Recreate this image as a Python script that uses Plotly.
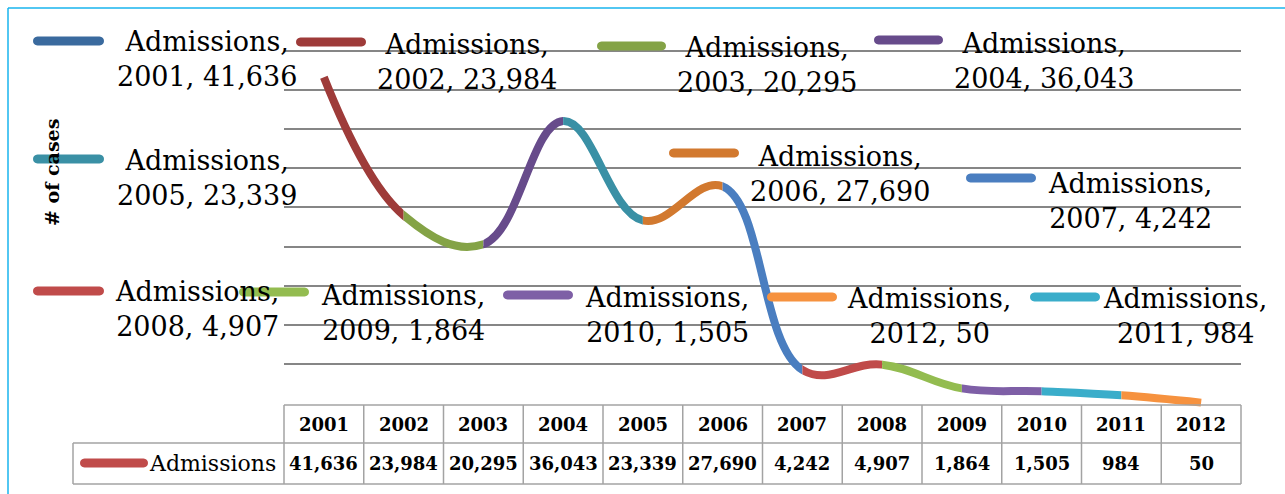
import plotly.graph_objects as go

# ---- data -------------------------------------------------------------
years = ["2001", "2002", "2003", "2004", "2005", "2006",
         "2007", "2008", "2009", "2010", "2011", "2012"]
admissions = [41636, 23984, 20295, 36043, 23339, 27690,
              4242, 4907, 1864, 1505, 984, 50]
series_name = "Admissions"
y_title = "# of cases"
y_max = 45000
y_step = 5000

# per-point colours (varied by point, as in the source workbook)
point_colors = ["#3A6A9E", "#9E3B39", "#84A346", "#674B8B", "#3A90A5", "#D2792F",
                "#4A7EC0", "#C04B4A", "#93BC50", "#7E5FA6", "#3AADCA", "#F6923F"]

# ---- canvas geometry (pixels) ----------------------------------------
W, H = 1285, 494
PLOT_L, PLOT_R = 284, 1241
PLOT_B, PLOT_T = 403, 51          # pixel rows of 0 and y_max
COL_W = (PLOT_R - PLOT_L) / len(years)


def px(x):
    return x / W


def py(y):
    return 1 - y / H


def col_center(i):
    return PLOT_L + COL_W * (i + 0.5)


def val_at_pixel(p):
    return (PLOT_B - p) / (PLOT_B - PLOT_T) * y_max


idx = list(range(len(years)))
fig = go.Figure()

# main subplot: carries the horizontal gridlines (range padded a little so
# the top gridline is not dropped at the plot edge)
TOP_PAD = 4
fig.add_trace(go.Scatter(x=idx, y=admissions, mode="markers",
                         marker=dict(opacity=0), hoverinfo="skip",
                         showlegend=False, xaxis="x", yaxis="y"))

layout = dict(
    width=W, height=H,
    margin=dict(l=0, r=0, t=0, b=0),
    paper_bgcolor="white", plot_bgcolor="rgba(0,0,0,0)",
    showlegend=False,
    xaxis=dict(domain=[px(PLOT_L), px(PLOT_R)], range=[-0.5, len(years) - 0.5],
               visible=False),
    yaxis=dict(domain=[py(PLOT_B), py(PLOT_T - TOP_PAD)],
               range=[0, val_at_pixel(PLOT_T - TOP_PAD)],
               tickvals=list(range(y_step, y_max + 1, y_step)),
               showgrid=True, gridcolor="#868686", gridwidth=1.5,
               showticklabels=False, zeroline=False, showline=False, ticks=""),
    # shared y axis for the coloured curve pieces (taller, same scale)
    yaxis2=dict(domain=[py(440), py(20)],
                range=[val_at_pixel(440), val_at_pixel(20)],
                visible=False, anchor="x2"),
)

# smoothed line: one clipped window per segment so each piece gets its colour
n_seg = len(years) - 1
for i in range(n_seg):
    x0p, x1p = col_center(i), col_center(i + 1)
    r0, r1 = i, i + 1
    if i == 0:
        x0p -= 6
        r0 -= 6 / COL_W
    if i == n_seg - 1:
        x1p += 6
        r1 += 6 / COL_W
    ax = f"xaxis{i + 2}"
    layout[ax] = dict(domain=[px(x0p), px(x1p)], range=[r0, r1],
                      visible=False, anchor="y2")
    fig.add_trace(go.Scatter(
        x=idx, y=admissions, mode="lines",
        line=dict(shape="spline", smoothing=1.15, color=point_colors[i + 1], width=8),
        hoverinfo="skip", showlegend=False,
        xaxis=f"x{i + 2}", yaxis="y2"))

fig.update_layout(**layout)

shapes = []
annotations = []


def pill(x0, x1, yc, color, thick=9):
    """Rounded legend key drawn as a path in paper coordinates."""
    r = thick / 2
    k = 1.33 * r
    pts = (f"M {px(x0 + r)},{py(yc - r)} L {px(x1 - r)},{py(yc - r)} "
           f"C {px(x1 - r + k)},{py(yc - r)} {px(x1 - r + k)},{py(yc + r)} {px(x1 - r)},{py(yc + r)} "
           f"L {px(x0 + r)},{py(yc + r)} "
           f"C {px(x0 + r - k)},{py(yc + r)} {px(x0 + r - k)},{py(yc - r)} {px(x0 + r)},{py(yc - r)} Z")
    return dict(type="path", xref="paper", yref="paper", path=pts,
                fillcolor=color, line=dict(width=0), layer="above")


# ---- per-point legend (key x0, key x1, key y, text centre x, text centre y)
legend_order = ["2001", "2002", "2003", "2004", "2005", "2006",
                "2007", "2008", "2009", "2010", "2012", "2011"]
legend_pos = {
    "2001": (33, 104, 41, 207, 59),
    "2002": (296, 366, 42, 467, 62),
    "2003": (597, 666, 46, 767, 65),
    "2004": (874, 943, 40, 1044, 61),
    "2005": (33, 104, 159, 207, 178),
    "2006": (669, 739, 153, 840, 174),
    "2007": (966, 1036, 178, 1130, 201),
    "2008": (33, 104, 291, 197, 309),
    "2009": (239, 309, 292, 403, 313),
    "2010": (503, 573, 295, 667, 315),
    "2012": (767, 837, 297, 929, 316),
    "2011": (1030, 1100, 297, 1185, 316),
}
legend_font = dict(family="DejaVu Serif", size=27, color="black")
for yr in legend_order:
    i = years.index(yr)
    kx0, kx1, ky, tx, ty = legend_pos[yr]
    shapes.append(pill(kx0, kx1, ky, point_colors[i]))
    annotations.append(dict(
        xref="paper", yref="paper", x=px(tx), y=py(ty),
        xanchor="center", yanchor="middle", align="center", showarrow=False,
        text=f"{series_name},<br>{yr}, {admissions[i]:,}", font=legend_font))

# ---- y axis title
annotations.append(dict(xref="paper", yref="paper", x=px(52), y=py(173),
                        xanchor="center", yanchor="middle", showarrow=False,
                        textangle=-90, text=f"<b>{y_title}</b>",
                        font=dict(family="DejaVu Serif", size=19, color="black")))

# ---- data table under the plot
TBL_TOP, TBL_MID, TBL_BOT, TBL_LEFT = 405, 443, 484, 73
grid = dict(color="#a3a3a3", width=1.5)


def hline(y, x0, x1):
    return dict(type="line", xref="paper", yref="paper",
                x0=px(x0), x1=px(x1), y0=py(y), y1=py(y), line=grid)


def vline(x, y0, y1):
    return dict(type="line", xref="paper", yref="paper",
                x0=px(x), x1=px(x), y0=py(y0), y1=py(y1), line=grid)


shapes += [hline(TBL_TOP, PLOT_L, PLOT_R), hline(TBL_MID, TBL_LEFT, PLOT_R),
           hline(TBL_BOT, TBL_LEFT, PLOT_R), vline(TBL_LEFT, TBL_MID, TBL_BOT)]
for k in range(len(years) + 1):
    shapes.append(vline(PLOT_L + COL_W * k, TBL_TOP, TBL_BOT))

cell_font = dict(family="DejaVu Serif", size=18, color="black")
for i, yr in enumerate(years):
    annotations.append(dict(xref="paper", yref="paper", x=px(col_center(i)),
                            y=py((TBL_TOP + TBL_MID) / 2), xanchor="center",
                            yanchor="middle", showarrow=False,
                            text=f"<b>{yr}</b>", font=cell_font))
    annotations.append(dict(xref="paper", yref="paper", x=px(col_center(i)),
                            y=py((TBL_MID + TBL_BOT) / 2), xanchor="center",
                            yanchor="middle", showarrow=False,
                            text=f"<b>{admissions[i]:,}</b>", font=cell_font))

shapes.append(pill(80, 148, 463, "#C04B4A"))
annotations.append(dict(xref="paper", yref="paper", x=px(278), y=py(463),
                        xanchor="right", yanchor="middle", showarrow=False,
                        text=series_name,
                        font=dict(family="DejaVu Serif", size=22, color="black")))

# ---- outer frame (top and left edges)
frame = dict(color="#18B4EE", width=1.5)
shapes.append(dict(type="line", xref="paper", yref="paper",
                   x0=px(8), x1=1, y0=py(8), y1=py(8), line=frame))
shapes.append(dict(type="line", xref="paper", yref="paper",
                   x0=px(8), x1=px(8), y0=py(8), y1=0, line=frame))

fig.update_layout(shapes=shapes, annotations=annotations)
fig.write_html("out.html")
